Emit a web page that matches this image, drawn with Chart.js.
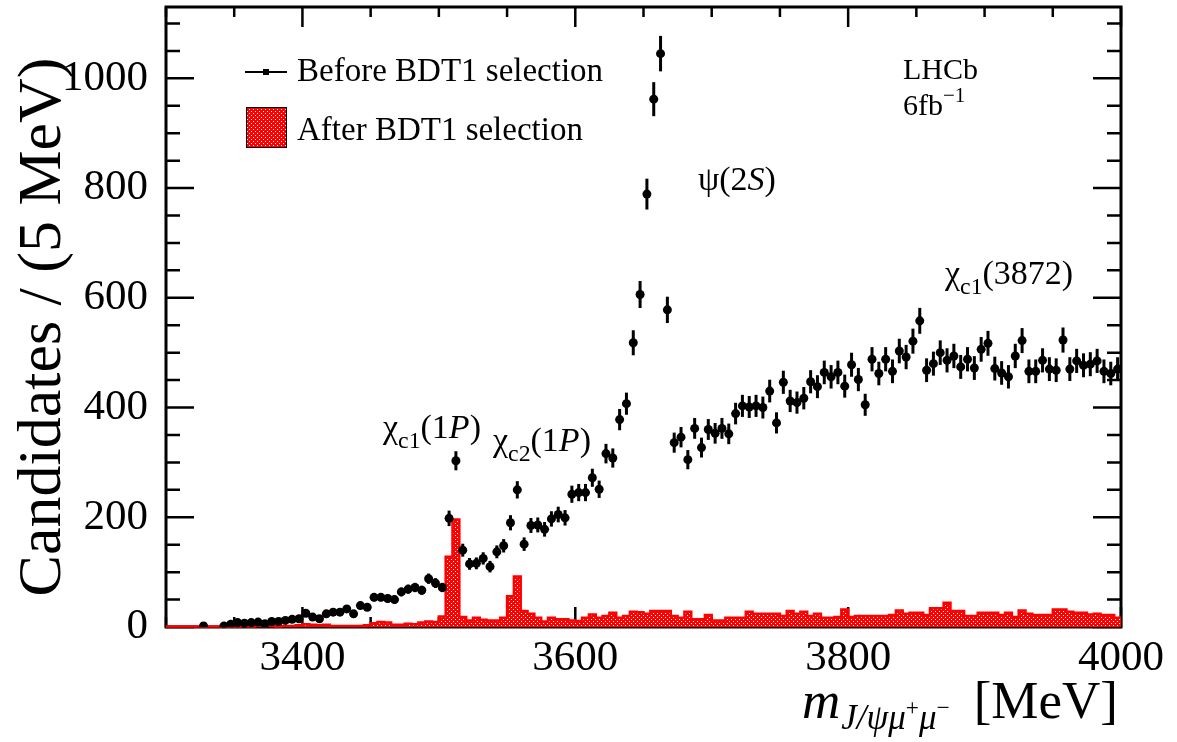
<!DOCTYPE html>
<html><head><meta charset="utf-8">
<script src="https://cdn.jsdelivr.net/npm/chart.js@4.4.0/dist/chart.umd.min.js"></script>
<style>html,body{margin:0;padding:0;background:#fff;}#wrap{width:1177px;height:742px;}</style>
</head><body><div id="wrap"><canvas id="c" width="1177" height="742"></canvas></div>
<script>
// ---- binning ----
const binLow = 3300;
const binWidth = 5;
// ---- Before BDT1 selection (candidates per 5 MeV bin), null = empty bin ----
const beforeBDT = [
 null,null,null,null,null,2,null,null,2,5,
 8,7,8,9,6,10,10,12,14,15,
 25,18,15,24,27,27,33,24,39,36,
 54,54,52,50,64,69,72,67,88,80,
 72,198,303,140,115,116,125,110,137,148,
 190,250,151,185,186,178,197,205,199,242,
 245,245,272,251,316,308,378,407,518,606,
 789,962,1045,578,336,346,305,362,327,360,
 353,362,352,389,403,401,403,400,430,372,
 446,412,409,417,447,438,464,456,464,439,
 478,451,405,488,462,488,466,503,492,521,
 558,468,480,500,486,494,474,488,472,506,
 517,471,463,456,494,522,466,466,486,470,
 468,523,470,485,477,479,485,466,462,470
];
// ---- statistical uncertainties of the points above ----
const beforeErr = [
 null,null,null,null,null,1.4,null,null,1.4,2.2,
 2.8,2.6,2.8,3.0,2.4,3.2,3.2,3.5,3.7,3.9,
 5.0,4.2,3.9,4.9,5.2,5.2,5.7,4.9,6.2,6.0,
 7.3,7.3,7.2,7.1,8.0,8.3,8.5,8.2,9.4,8.9,
 8.5,14.1,17.4,11.8,10.7,10.8,11.2,10.5,11.7,12.2,
 13.8,15.8,12.3,13.6,13.6,13.3,14.0,14.3,14.1,15.6,
 15.7,15.7,16.5,15.8,17.8,17.5,19.4,20.2,22.8,24.6,
 28.1,31.0,32.3,24.0,18.3,18.6,17.5,19.0,18.1,19.0,
 18.8,19.0,18.8,19.7,20.1,20.0,20.1,20.0,20.7,19.3,
 21.1,20.3,20.2,20.4,21.1,20.9,21.5,21.4,21.5,21.0,
 21.9,21.2,20.1,22.1,21.5,22.1,21.6,22.4,22.2,22.8,
 23.6,21.6,21.9,22.4,22.0,22.2,21.8,22.1,21.7,22.5,
 22.7,21.7,21.5,21.4,22.2,22.8,21.6,21.6,22.0,21.7,
 21.6,22.9,21.7,22.0,21.8,21.9,22.0,21.6,21.5,21.7
];
// ---- After BDT1 selection (histogram) ----
const afterBDT = [
 1,1,1,1,1,1,1,1,2,1,
 1,2,1,2,2,2,1,2,2,3,
 5,4,3,4,2,2,2,2,2,3,
 7,9,8,4,4,6,5,8,10,9,
 19,128,196,18,12,17,13,12,12,17,
 56,92,29,24,17,10,17,14,14,12,
 11,17,23,17,20,26,17,20,28,27,
 24,29,29,29,20,17,28,14,14,22,
 12,12,17,17,17,28,24,24,24,24,
 20,29,24,28,20,24,17,17,18,32,
 18,20,20,20,20,20,22,30,24,26,
 26,22,34,34,44,29,29,20,20,26,
 26,26,22,26,18,30,24,22,22,22,
 32,32,28,26,26,23,24,22,22,17
];
const xTickLabels = [3400, 3600, 3800, 4000];
const yTickLabels = [0, 200, 400, 600, 800, 1000];
const xRange = [3300, 4000];
const yRange = [0, 1130];

const SERIF = '"Liberation Serif","Times New Roman",serif';

const centers = beforeBDT.map((_, i) => binLow + binWidth * (i + 0.5));
const blackPts = [];
beforeBDT.forEach((v, i) => { if (v !== null) blackPts.push({x: centers[i], y: v, e: beforeErr[i]}); });
const redPts = [{x: binLow, y: afterBDT[0]}]
  .concat(afterBDT.map((v, i) => ({x: centers[i], y: v})))
  .concat([{x: binLow + binWidth * afterBDT.length, y: afterBDT[afterBDT.length - 1]}]);

const ctx = document.getElementById('c').getContext('2d');
function makePattern() {
  const p = document.createElement('canvas'); p.width = 4; p.height = 4;
  const g = p.getContext('2d');
  g.fillStyle = '#ff0000'; g.fillRect(0, 0, 4, 4);
  g.fillStyle = '#ffffff'; g.fillRect(1, 1, 1, 1); g.fillRect(3, 3, 1, 1);
  return ctx.createPattern(p, 'repeat');
}
const hatch = makePattern();

function rich(c, x, y, segs, size) {
  let cx = x;
  for (const s of segs) {
    const sc = s.scale || 1;
    const fs = size * sc;
    c.font = (s.it ? 'italic ' : '') + fs.toFixed(1) + 'px ' + SERIF;
    c.fillText(s.t, cx, y + (s.dy || 0) * size);
    cx += c.measureText(s.t).width + (s.gap || 0);
  }
}

const framePlugin = {
  id: 'frame',
  beforeDatasetsDraw(chart) {
    const c = chart.ctx, {left, right, top, bottom} = chart.chartArea;
    const xs = chart.scales.x, ys = chart.scales.y;
    c.save();
    c.strokeStyle = '#000'; c.lineWidth = 3; c.lineCap = 'butt';
    c.strokeRect(left, top, right - left, bottom - top);
    c.lineWidth = 2.5;
    for (let v = 0; v <= 1100; v += 50) {
      const py = ys.getPixelForValue(v);
      const len = v % 200 === 0 ? 28 : 14;
      c.beginPath(); c.moveTo(left, py); c.lineTo(left + len, py);
      c.moveTo(right, py); c.lineTo(right - len, py); c.stroke();
    }
    for (let v = 3300; v <= 4000; v += 50) {
      const px = xs.getPixelForValue(v);
      const len = v % 200 === 0 ? 20 : 10;
      c.beginPath(); c.moveTo(px, bottom); c.lineTo(px, bottom - len);
      c.moveTo(px, top); c.lineTo(px, top + len); c.stroke();
    }
    c.restore();
  }
};

const errPlugin = {
  id: 'errbars',
  beforeDatasetDraw(chart, args) {
    if (args.index !== 1) return;
    const c = chart.ctx, xs = chart.scales.x, ys = chart.scales.y;
    c.save(); c.strokeStyle = '#000'; c.lineWidth = 3;
    blackPts.forEach(p => {
      const px = xs.getPixelForValue(p.x);
      c.beginPath();
      c.moveTo(px, ys.getPixelForValue(p.y - p.e));
      c.lineTo(px, ys.getPixelForValue(p.y + p.e));
      c.stroke();
    });
    c.restore();
  }
};

const textPlugin = {
  id: 'texts',
  afterDraw(chart) {
    const c = chart.ctx;
    c.save();
    c.fillStyle = '#000'; c.textBaseline = 'alphabetic'; c.textAlign = 'left';
    // legend
    c.strokeStyle = '#000'; c.lineWidth = 2;
    c.beginPath(); c.moveTo(245, 72); c.lineTo(287, 72); c.stroke();
    c.fillRect(263, 69, 6, 6);
    c.font = '33px ' + SERIF;
    c.fillText('Before BDT1 selection', 297, 81);
    c.fillStyle = hatch; c.fillRect(246, 107, 41, 41);
    c.strokeStyle = '#000'; c.lineWidth = 1; c.strokeRect(246.5, 107.5, 40, 40);
    c.fillStyle = '#000';
    c.fillText('After BDT1 selection', 297, 140);
    // LHCb
    c.font = '30px ' + SERIF;
    c.fillText('LHCb', 903, 79);
    rich(c, 903, 115, [{t: '6fb'}, {t: '\u2212', scale: 0.7, dy: -0.42}, {t: '1', scale: 0.7, dy: -0.42}], 30);
    // annotations
    rich(c, 698, 190, [{t: '\u03C8'}, {t: '(2'}, {t: 'S', it: true}, {t: ')'}], 34);
    rich(c, 945, 284, [{t: '\u03C7'}, {t: 'c1', scale: 0.7, dy: 0.28}, {t: '(3872)'}], 34);
    rich(c, 383, 438, [{t: '\u03C7'}, {t: 'c1', scale: 0.7, dy: 0.28}, {t: '(1'}, {t: 'P', it: true}, {t: ')'}], 34);
    rich(c, 493, 451, [{t: '\u03C7'}, {t: 'c2', scale: 0.7, dy: 0.28}, {t: '(1'}, {t: 'P', it: true}, {t: ')'}], 34);
    // x title
    rich(c, 802, 718, [
      {t: 'm', it: true, gap: 1},
      {t: 'J/\u03C8\u03BC', it: true, scale: 0.66, dy: 0.2},
      {t: '+', scale: 0.44, dy: -0.05},
      {t: '\u03BC', it: true, scale: 0.66, dy: 0.2},
      {t: '\u2212', scale: 0.44, dy: -0.05, gap: 24},
      {t: '[MeV]'}
    ], 53);
    // y title
    c.translate(60, 327); c.rotate(-Math.PI / 2);
    c.textAlign = 'center';
    c.font = '62px ' + SERIF;
    c.fillText('Candidates / (5 MeV)', 0, 0);
    c.restore();
  }
};

new Chart(ctx, {
  type: 'line',
  data: {
    datasets: [
      {
        label: 'After BDT1 selection', data: redPts, stepped: 'middle',
        fill: 'origin', backgroundColor: hatch, borderColor: '#ff0000', borderWidth: 2.5,
        pointRadius: 0, order: 2, clip: false
      },
      {
        label: 'Before BDT1 selection', data: blackPts, showLine: false,
        pointRadius: 4.5, pointBackgroundColor: '#000', pointBorderColor: '#000', pointBorderWidth: 0,
        order: 1
      }
    ]
  },
  options: {
    responsive: false, animation: false,
    layout: {padding: {left: 0, top: 7, right: 56, bottom: 0}},
    plugins: {legend: {display: false}, tooltip: {enabled: false}},
    scales: {
      x: {
        type: 'linear', min: xRange[0], max: xRange[1],
        afterBuildTicks: s => { s.ticks = xTickLabels.map(v => ({value: v})); },
        afterFit: s => { s.height = 115; s.paddingLeft = 0; s.paddingRight = 0; },
        grid: {display: false, drawTicks: false}, border: {display: false},
        ticks: {font: {family: SERIF, size: 43}, color: '#000', padding: 6, maxRotation: 0, autoSkip: false,
                callback: v => String(v)}
      },
      y: {
        type: 'linear', min: yRange[0], max: yRange[1],
        afterBuildTicks: s => { s.ticks = yTickLabels.map(v => ({value: v})); },
        afterFit: s => { s.width = 166; s.paddingTop = 0; s.paddingBottom = 0; },
        grid: {display: false, drawTicks: false}, border: {display: false},
        ticks: {font: {family: SERIF, size: 43}, color: '#000', padding: 18, autoSkip: false,
                callback: v => String(v)}
      }
    }
  },
  plugins: [framePlugin, errPlugin, textPlugin]
});
</script></body></html>
